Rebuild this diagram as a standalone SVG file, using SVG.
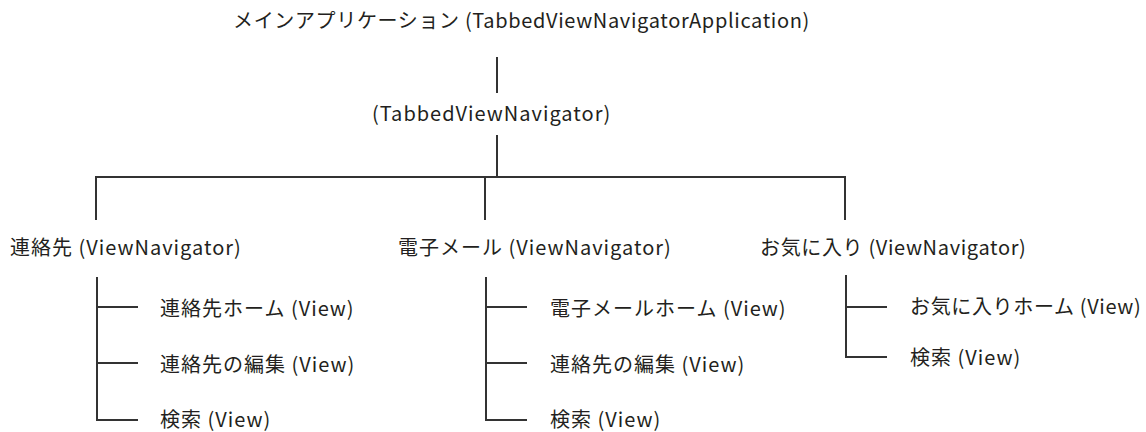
<svg xmlns="http://www.w3.org/2000/svg" width="1146" height="432" viewBox="0 0 1146 432">
<style>
text{font-family:"Noto Sans CJK JP","Noto Sans",sans-serif;font-size:20px;fill:#231f20;letter-spacing:1px}
text.t{letter-spacing:0.65px}
.c line,.c path{stroke:#333;stroke-width:2;fill:none}
</style>
<rect width="1146" height="432" fill="#fff"/>
<g class="c" id="connectors">
<line x1="497" y1="57" x2="497" y2="93"/>
<line x1="497" y1="135" x2="497" y2="177"/>
<path d="M96 220V177H845V220"/>
<line x1="485" y1="177" x2="485" y2="220"/>
<path d="M97 277V420H138M97 307H138M97 363H138"/>
<path d="M486 277V420H527M486 307H527M486 363H527"/>
<path d="M846 275V357H887M846 307H887"/>
</g>
<g id="app"><text class="t" x="233" y="28">メインアプリケーション (TabbedViewNavigatorApplication)</text></g>
<g id="tvn"><text x="372" y="121">(TabbedViewNavigator)</text></g>
<g id="contacts"><text x="10" y="255">連絡先 (ViewNavigator)</text></g>
<g id="email"><text x="398" y="255">電子メール (ViewNavigator)</text></g>
<g id="fav"><text class="t" x="760" y="255">お気に入り (ViewNavigator)</text></g>
<g id="c1"><text x="160" y="316">連絡先ホーム (View)</text></g>
<g id="c2"><text x="160" y="372">連絡先の編集 (View)</text></g>
<g id="c3"><text x="160" y="427">検索 (View)</text></g>
<g id="e1"><text x="550" y="316">電子メールホーム (View)</text></g>
<g id="e2"><text x="550" y="372">連絡先の編集 (View)</text></g>
<g id="e3"><text x="550" y="427">検索 (View)</text></g>
<g id="f1"><text class="t" x="910" y="314">お気に入りホーム (View)</text></g>
<g id="f2"><text x="910" y="365">検索 (View)</text></g>
</svg>
